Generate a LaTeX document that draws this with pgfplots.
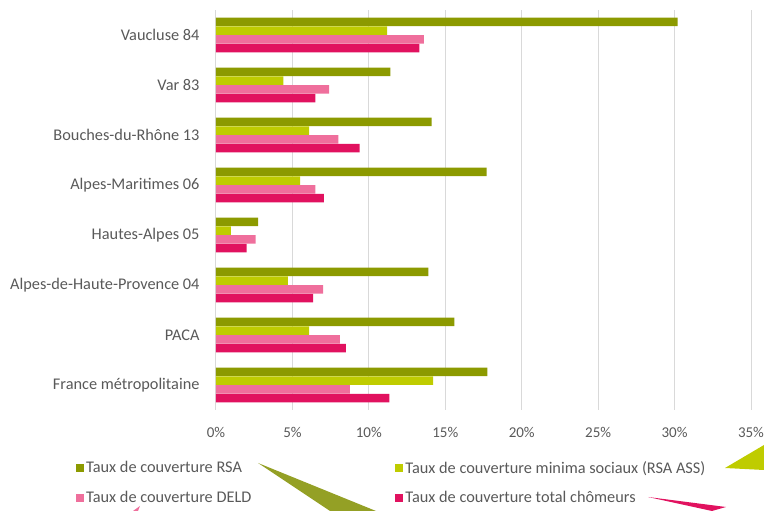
\documentclass[border=0pt]{standalone}
\usepackage{fontspec}
\setmainfont{Carlito}
\usepackage{pgfplots}
\pgfplotsset{compat=1.18}
\definecolor{rsa}{HTML}{8C9A00}
\definecolor{mini}{HTML}{BFCC00}
\definecolor{deld}{HTML}{EF6F9C}
\definecolor{tot}{HTML}{E1125F}
\definecolor{txt}{HTML}{595959}
\definecolor{grd}{HTML}{D9D9D9}
\definecolor{arrowolive}{HTML}{94A025}
\begin{document}
\begin{tikzpicture}[x=1pt,y=1pt]
\useasboundingbox (0,0) rectangle (764,511);
\begin{axis}[
  at={(216pt,101pt)}, anchor=south west,
  scale only axis, width=535pt, height=400pt,
  xmin=0, xmax=35, ymin=-0.5, ymax=7.5,
  xbar, bar width=8.6pt,
  xtick={0,5,...,35},
  xticklabel={\pgfmathprintnumber{\tick}\%},
  /pgf/number format/assume math mode=true,
  ytick={0,...,7},
  yticklabels={France métropolitaine, PACA, Alpes-de-Haute-Provence 04, Hautes-Alpes 05, Alpes-Maritimes 06, Bouches-du-Rhône 13, Var 83, Vaucluse 84},
  axis line style={draw=none},
  major tick length=0pt,
  xmajorgrids, grid style={grd, line width=1pt},
  xticklabel style={text=txt, font=\fontsize{15}{15}\selectfont, yshift=-14pt},
  yticklabel style={text=txt, font=\fontsize{16.3}{16.3}\selectfont, xshift=-13pt},
  legend columns=2,
  legend cell align=left,
  legend image code/.code={\fill[#1] (0pt,-4pt) rectangle (8pt,4pt);},
  legend style={draw=none, fill=none, inner sep=0pt,
    at={(-0.2617,-0.1225)}, anchor=north west,
    font=\fontsize{16.3}{16.3}\selectfont, text=txt,
    row sep=13pt,
    /tikz/column 2/.style={column sep=142pt}},
]
\addplot[fill=rsa, draw=none, bar shift=13.1pt] coordinates {
 (17.75,0) (15.6,1) (13.9,2) (2.75,3) (17.7,4) (14.1,5) (11.4,6) (30.2,7)};
\addlegendentry{Taux de couverture RSA}
\addplot[fill=mini, draw=none, bar shift=4.37pt] coordinates {
 (14.2,0) (6.1,1) (4.7,2) (0.97,3) (5.5,4) (6.1,5) (4.4,6) (11.2,7)};
\addlegendentry{Taux de couverture minima sociaux (RSA ASS)}
\addplot[fill=deld, draw=none, bar shift=-4.37pt] coordinates {
 (8.75,0) (8.1,1) (7.0,2) (2.6,3) (6.5,4) (8.0,5) (7.4,6) (13.6,7)};
\addlegendentry{Taux de couverture DELD}
\addplot[fill=tot, draw=none, bar shift=-13.1pt] coordinates {
 (11.35,0) (8.5,1) (6.35,2) (2.0,3) (7.05,4) (9.4,5) (6.5,6) (13.3,7)};
\addlegendentry{Taux de couverture total chômeurs}
\end{axis}
% decorative arrow shapes present in the reference image
\fill[arrowolive] (258,48) -- (330,0) -- (376,0) -- cycle;
\fill[mini] (725,43) -- (764,66) -- (764,41) -- cycle;
\fill[tot] (648,14) -- (726,4) -- (712,0) -- cycle;
\fill[deld] (133,0) -- (140,5) -- (138,0) -- cycle;
\end{tikzpicture}
\end{document}
